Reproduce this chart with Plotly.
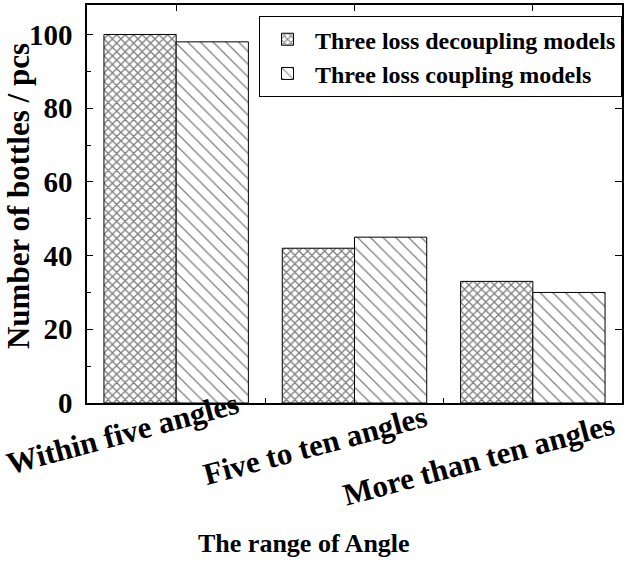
import plotly.graph_objects as go

categories = ["Within five angles", "Five to ten angles", "More than ten angles"]
series_names = ["Three loss decoupling models", "Three loss coupling models"]
decoupling = [100, 42, 33]
coupling = [98, 45, 30]
y_ticks = [0, 20, 40, 60, 80, 100]

FONT = "Liberation Serif"
pos = list(range(len(categories)))
BAR_W = 0.405

fig = go.Figure()
# series 1 on the base axes (bottom/left), series 2 on the overlaid axes (top/right);
# both axis pairs share identical ranges so the bars sit side by side in each group
fig.add_trace(go.Bar(
    x=pos, y=decoupling, name=series_names[0], xaxis="x", yaxis="y",
    width=BAR_W, offset=-BAR_W,
    marker=dict(color="white", line=dict(color="black", width=1),
                pattern=dict(shape="x", fgcolor="black", bgcolor="white", size=6, solidity=0.4)),
))
fig.add_trace(go.Bar(
    x=pos, y=coupling, name=series_names[1], xaxis="x2", yaxis="y2",
    width=BAR_W, offset=0,
    marker=dict(color="white", line=dict(color="black", width=1),
                pattern=dict(shape="\\", fgcolor="black", bgcolor="white", size=9, solidity=0.14)),
))

axis_line = dict(showline=True, linecolor="black", linewidth=1.5, showgrid=False,
                 zeroline=False, automargin=False)

fig.update_layout(
    width=630, height=563,
    margin=dict(l=87, r=8, t=5, b=160),
    paper_bgcolor="white", plot_bgcolor="white",
    showlegend=True,
    legend=dict(x=1, xanchor="right", y=0.972, yanchor="top",
                bordercolor="black", borderwidth=1, bgcolor="white",
                font=dict(family=FONT, size=24, color="black", weight="bold"),
                itemwidth=45, tracegroupgap=0, traceorder="normal"),
    xaxis=dict(range=[-0.5, 2.5], tickmode="array", tickvals=[0.5, 1.5],
               ticks="inside", ticklen=5, tickcolor="black", showticklabels=False, **axis_line),
    xaxis2=dict(range=[-0.5, 2.5], overlaying="x", side="top", tickmode="array",
                tickvals=pos, ticks="inside", ticklen=6, tickcolor="black",
                showticklabels=False, **axis_line),
    yaxis=dict(range=[0, 108], tickmode="array", tickvals=y_ticks, ticks="inside", ticklen=6,
               tickcolor="black",
               minor=dict(ticks="inside", ticklen=4, tickvals=[10, 30, 50, 70, 90], tickcolor="black"),
               tickfont=dict(family=FONT, size=29, color="black", weight="bold"),
               ticklabelstandoff=7, **axis_line),
    yaxis2=dict(range=[0, 108], overlaying="y", side="right", tickmode="array",
                tickvals=y_ticks[1:], ticks="inside", ticklen=7, tickcolor="black",
                showticklabels=False, **axis_line),
)

label_shift = [-54, -40, -54]
label_y = [-30, -42, -56]
for i, cat in enumerate(categories):
    fig.add_annotation(text=cat, x=i, xref="x", y=0, yref="paper",
                       xshift=label_shift[i], yshift=label_y[i], showarrow=False,
                       textangle=-15, xanchor="center", yanchor="middle",
                       font=dict(family=FONT, size=31, color="black", weight="bold"))

fig.add_annotation(text="The range of Angle", x=0.4065, xref="paper", y=0, yref="paper",
                   yshift=-140, showarrow=False, xanchor="center", yanchor="middle",
                   font=dict(family=FONT, size=26, color="black", weight="bold"))
fig.add_annotation(text="Number of bottles / pcs", x=-0.129, xref="paper", y=0.52, yref="paper",
                   showarrow=False, textangle=-90, xanchor="center", yanchor="middle",
                   borderpad=0,
                   font=dict(family=FONT, size=31, color="black", weight="bold"))

fig.write_html("out.html", config={"displayModeBar": False},
               post_script="document.body.style.margin='0';")
